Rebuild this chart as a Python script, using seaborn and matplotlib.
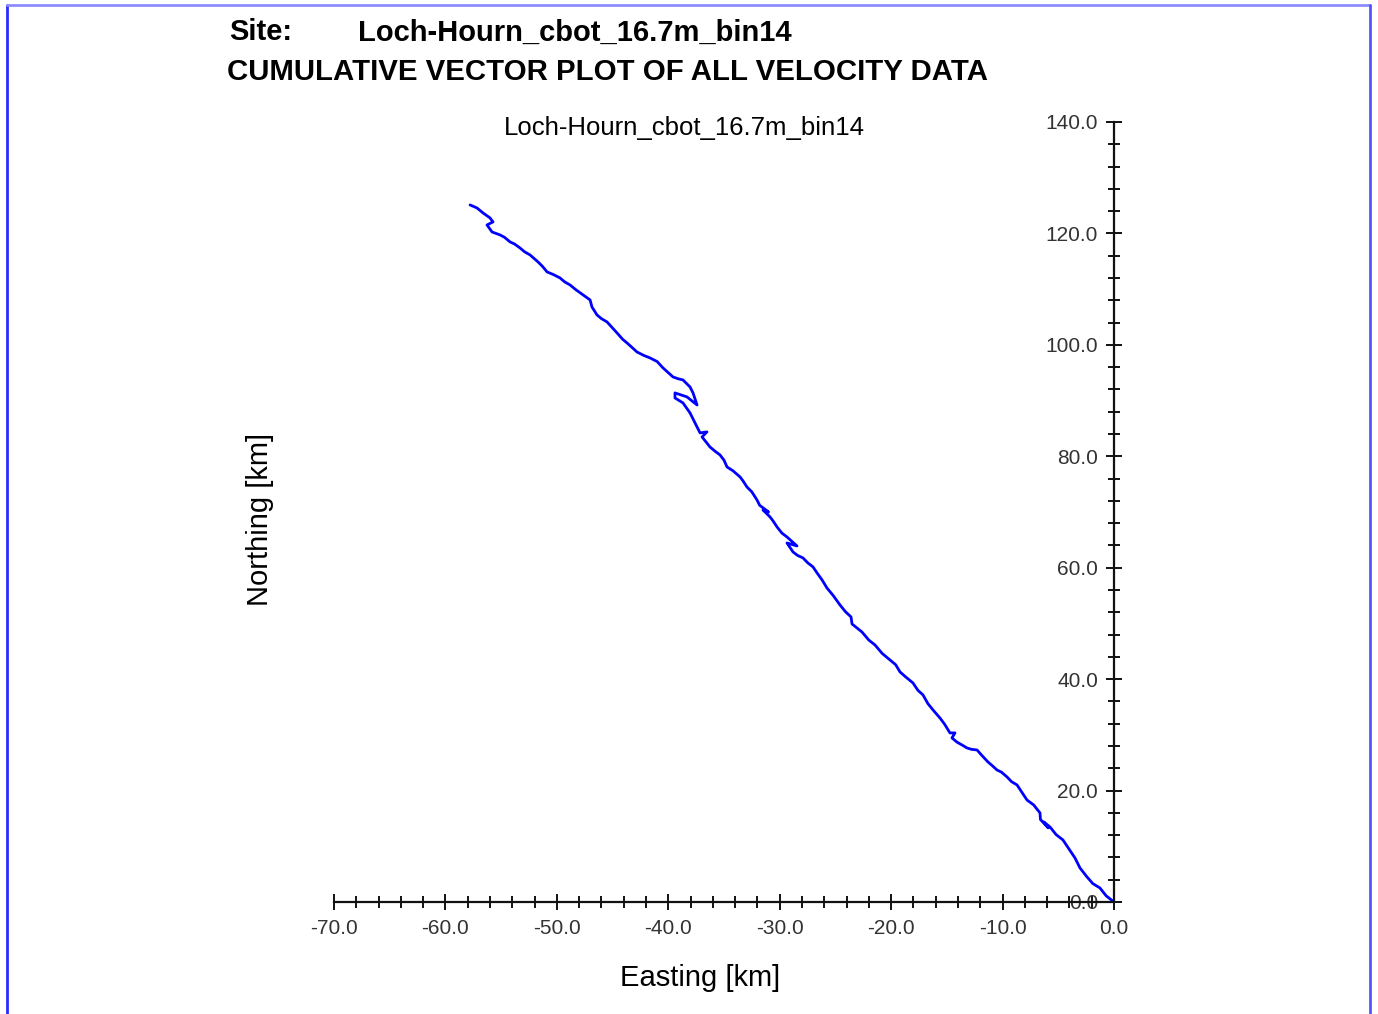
import matplotlib
matplotlib.use("Agg")
import matplotlib.pyplot as plt
import seaborn as sns
import pandas as pd
from matplotlib.ticker import MultipleLocator
from matplotlib.lines import Line2D

site_name = "Loch-Hourn_cbot_16.7m_bin14"

# cumulative displacement, origin -> end of record (km)
easting = [0.0, -0.70, -1.26, -1.90, -2.42, -3.05, -3.50, -4.10, -4.58, -5.20,
           -5.74, -6.30, -5.90, -6.60, -6.64, -7.20, -7.81, -8.30, -8.70, -9.20,
           -9.60, -10.10, -10.50, -11.00, -11.31, -11.90, -12.29, -12.80, -13.19,
           -13.64, -14.10, -14.54, -14.27, -14.72, -15.20, -15.62, -16.24, -16.70,
           -17.14, -17.60, -18.04, -18.70, -19.20, -19.60, -20.10, -20.80, -21.45,
           -22.00, -22.62, -23.51, -23.60, -24.10, -24.59, -25.20, -25.76, -26.20,
           -26.65, -27.01, -27.50, -27.91, -28.40, -28.81, -29.35, -28.45, -29.35,
           -29.80, -30.24, -30.60, -30.87, -31.50, -31.00, -31.80, -32.04, -32.50,
           -32.94, -33.30, -33.56, -34.20, -34.73, -35.00, -35.36, -35.80, -36.26,
           -36.97, -36.53, -37.15, -37.60, -38.05, -38.68, -39.40, -39.40, -38.32,
           -37.42, -37.78, -38.05, -38.68, -39.10, -39.58, -40.47, -41.00, -41.64,
           -42.20, -42.81, -43.70, -44.10, -44.60, -45.50, -46.00, -46.40, -46.85,
           -47.02, -47.65, -48.30, -48.82, -49.30, -49.72, -50.30, -50.88, -51.30,
           -51.69, -52.41, -52.90, -53.31, -53.80, -54.20, -54.70, -55.10, -55.82,
           -56.27, -55.73, -56.00, -56.63, -57.17, -57.79]
northing = [0.0, 1.10, 2.51, 3.30, 4.49, 6.10, 7.90, 9.70, 11.13, 12.10,
            13.46, 14.36, 13.30, 14.80, 15.98, 17.40, 18.31, 19.80, 21.00, 21.60,
            22.44, 23.30, 23.69, 24.60, 25.13, 26.40, 27.28, 27.40, 27.64,
            28.18, 28.70, 29.44, 30.34, 30.34, 31.90, 33.03, 34.46, 35.60,
            37.16, 38.00, 39.31, 40.40, 41.28, 42.60, 43.44, 44.60, 46.13,
            47.00, 48.46, 49.90, 51.16, 52.10, 53.31, 55.00, 56.36, 57.80,
            59.06, 60.13, 60.90, 61.75, 62.20, 62.83, 64.44, 63.90, 65.52,
            66.20, 67.31, 68.40, 69.11, 70.36, 70.00, 71.20, 72.16, 73.60,
            74.49, 75.60, 76.29, 77.40, 78.08, 79.30, 80.24, 80.90, 81.67,
            83.47, 84.37, 84.19, 85.98, 87.78, 89.57, 90.47, 91.37, 90.65,
            89.21, 91.37, 92.44, 93.70, 93.90, 94.24, 95.85, 97.00, 97.65,
            98.10, 98.72, 100.34, 101.00, 102.14, 104.11, 104.70, 105.37, 106.80,
            108.06, 108.96, 109.90, 110.75, 111.30, 112.01, 112.60, 113.09, 114.10,
            114.88, 116.14, 116.70, 117.39, 118.10, 118.47, 119.30, 119.73, 120.26,
            121.52, 122.06, 122.78, 123.68, 124.57, 125.11]

df = pd.DataFrame({"Easting": easting, "Northing": northing})

sns.set_style("white")
plt.rcParams["font.family"] = ["Liberation Sans", "DejaVu Sans"]
plt.rcParams["text.color"] = "black"
plt.rcParams["axes.labelcolor"] = "black"

fig = plt.figure(figsize=(13.78, 10.14), dpi=100)
ax = fig.add_axes([0.2424, 0.1105, 0.566, 0.7692])

sns.lineplot(data=df, x="Easting", y="Northing", sort=False, estimator=None,
             color="#0000ff", lw=2.0, ax=ax)

ax.set_xlim(-70, 0)
ax.set_ylim(0, 140)
ax.spines["top"].set_visible(False)
ax.spines["right"].set_visible(False)
ax.spines["left"].set_position(("data", 0))
for s in ("left", "bottom"):
    ax.spines[s].set_linewidth(1.6)
    ax.spines[s].set_color("#111111")

ax.xaxis.set_major_locator(MultipleLocator(10))
ax.xaxis.set_minor_locator(MultipleLocator(2))
ax.yaxis.set_major_locator(MultipleLocator(20))
ax.yaxis.set_minor_locator(MultipleLocator(4))
ax.xaxis.set_major_formatter(lambda v, p: f"{v:.1f}")
ax.yaxis.set_major_formatter(lambda v, p: f"{v:.1f}")
ax.tick_params(which="both", bottom=True, left=True, direction="inout",
               color="#111111", width=1.4)
ax.tick_params(which="major", length=11, labelsize=15, labelcolor="#333333")
ax.tick_params(axis="x", which="major", pad=7)
ax.tick_params(axis="y", which="major", pad=6)
ax.tick_params(which="minor", length=8)
ax.patch.set_alpha(0)

ax.set_xlabel("Easting [km]", fontsize=21)
ax.set_ylabel("Northing [km]", fontsize=21)
ax.xaxis.set_label_coords(0.469, -0.080)
ax.yaxis.set_label_coords(-0.077, 0.49)

fig.text(0.4964, 0.874, site_name, fontsize=18.5, ha="center", va="center")
fig.text(0.166, 0.968, "Site:", fontsize=21, fontweight="bold", va="center")
fig.text(0.260, 0.968, site_name, fontsize=21, fontweight="bold", va="center")
fig.text(0.165, 0.929, "CUMULATIVE VECTOR PLOT OF ALL VELOCITY DATA", fontsize=21.2,
         fontweight="bold", va="center")

# page frame
fig.add_artist(Line2D([0.005, 0.005], [0.0, 0.995], transform=fig.transFigure, color="#2a2aff", lw=2))
fig.add_artist(Line2D([0.005, 0.9945], [0.995, 0.995], transform=fig.transFigure, color="#8c8cff", lw=2))
fig.add_artist(Line2D([0.9945, 0.9945], [0.0, 0.995], transform=fig.transFigure, color="#5555ff", lw=2))

fig.savefig("out.png", dpi=100)
